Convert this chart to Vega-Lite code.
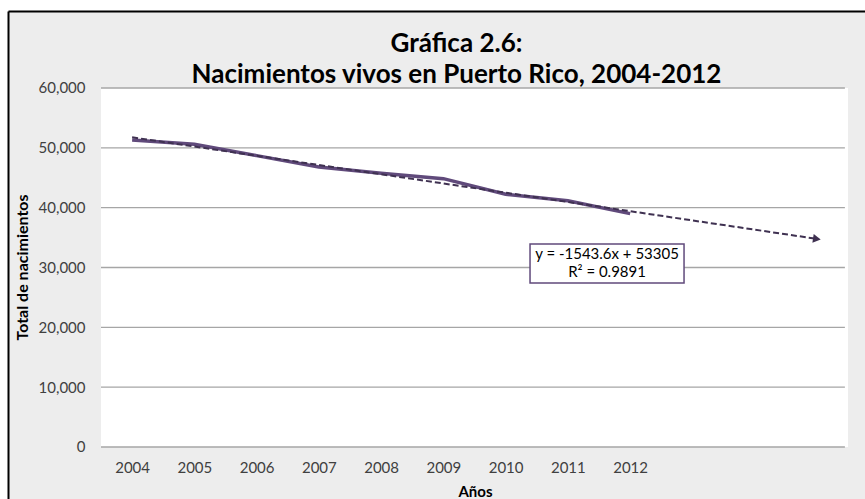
{
  "$schema": "https://vega.github.io/schema/vega-lite/v6.json",
  "width": 857,
  "height": 488,
  "autosize": {"type": "none"},
  "padding": {"left": 8, "top": 11, "right": 0, "bottom": 0},
  "background": "white",
  "config": {"view": {"stroke": null, "fill": "#ededed"}, "font": "Lato"},
  "title": {
    "text": ["Gráfica 2.6:", "Nacimientos vivos en Puerto Rico, 2004-2012"],
    "font": "Lato", "fontSize": 26, "fontWeight": "bold", "color": "black",
    "anchor": "middle", "frame": "group", "dx": 20, "offset": -77, "baseline": "top", "lineHeight": 31
  },
  "datasets": {
    "births": [
      {"year": 2004, "value": 51300},
      {"year": 2005, "value": 50600},
      {"year": 2006, "value": 48700},
      {"year": 2007, "value": 46800},
      {"year": 2008, "value": 45750},
      {"year": 2009, "value": 44850},
      {"year": 2010, "value": 42250},
      {"year": 2011, "value": 41150},
      {"year": 2012, "value": 39000}
    ],
    "trend": [
      {"year": 2004, "value": 51761},
      {"year": 2015, "value": 34782}
    ],
    "grid": [
      {"v": 0}, {"v": 10000}, {"v": 20000}, {"v": 30000}, {"v": 40000}, {"v": 50000}, {"v": 60000}
    ],
    "eq": [
      {"label": ["y = -1543.6x + 53305", "R² = 0.9891"]}
    ]
  },
  "resolve": {"axis": {"x": "independent", "y": "independent"}},
  "layer": [
    {
      "data": {"values": [{}]},
      "mark": {"type": "rect", "fill": "white"},
      "encoding": {
        "x": {"datum": 2003.5, "type": "quantitative",
          "scale": {"domain": [2002.006, 2015.773], "nice": false, "zero": false},
          "axis": {"orient": "bottom", "offset": -52, "values": [2004, 2005, 2006, 2007, 2008, 2009, 2010, 2011, 2012],
            "format": "d", "domain": false, "ticks": false, "tickSize": 0, "grid": false, "labelPadding": 13,
            "labelFont": "Lato", "labelFontSize": 15, "labelColor": "#404040", "labelFlush": false, "labelOverlap": false,
            "title": "Años", "titleFont": "Lato", "titleFontSize": 15, "titleFontWeight": "bold", "titleColor": "black",
            "titleX": 467, "titleY": 49, "titleBaseline": "alphabetic", "titleAlign": "center"}},
        "x2": {"datum": 2015.5},
        "y": {"datum": 0, "type": "quantitative",
          "scale": {"domain": [-8691, 72869], "nice": false, "zero": false},
          "axis": {"orient": "left", "offset": -93, "values": [0, 10000, 20000, 30000, 40000, 50000, 60000],
            "format": ",d", "domain": false, "ticks": false, "tickSize": 0, "grid": false, "labelPadding": 16,
            "labelFont": "Lato", "labelFontSize": 15, "labelColor": "#404040", "labelFlush": false, "labelOverlap": false,
            "title": "Total de nacimientos", "titleFont": "Lato", "titleFontSize": 16, "titleFontWeight": "bold", "titleColor": "black",
            "titleX": -79, "titleY": 256, "titleAngle": -90, "titleBaseline": "middle", "titleAlign": "center"}},
        "y2": {"datum": 60000}
      }
    },
    {
      "data": {"name": "grid"},
      "mark": {"type": "rule", "color": "#a6a6a6", "strokeWidth": 1.3},
      "encoding": {
        "x": {"datum": 2003.5, "type": "quantitative",
          "scale": {"domain": [2002.006, 2015.773], "nice": false, "zero": false},
          "axis": {"orient": "top", "offset": 0, "domain": true, "domainColor": "black", "domainWidth": 2,
            "labels": false, "ticks": false, "grid": false, "title": null}},
        "x2": {"datum": 2015.45},
        "y": {"field": "v", "type": "quantitative",
          "scale": {"domain": [-8691, 72869], "nice": false, "zero": false},
          "axis": {"orient": "left", "offset": 0, "domain": true, "domainColor": "black", "domainWidth": 2,
            "labels": false, "ticks": false, "grid": false, "title": null}}
      }
    },
    {
      "data": {"name": "births"},
      "mark": {"type": "line", "color": "#604a7b", "strokeWidth": 3.5},
      "encoding": {
        "x": {"field": "year", "type": "quantitative", "scale": {"domain": [2002.006, 2015.773], "nice": false, "zero": false}, "axis": null},
        "y": {"field": "value", "type": "quantitative", "scale": {"domain": [-8691, 72869], "nice": false, "zero": false}, "axis": null}
      }
    },
    {
      "data": {"name": "trend"},
      "mark": {"type": "line", "color": "#3f3151", "strokeWidth": 2, "strokeDash": [6, 3]},
      "encoding": {
        "x": {"field": "year", "type": "quantitative", "scale": {"domain": [2002.006, 2015.773], "nice": false, "zero": false}, "axis": null},
        "y": {"field": "value", "type": "quantitative", "scale": {"domain": [-8691, 72869], "nice": false, "zero": false}, "axis": null}
      }
    },
    {
      "data": {"name": "trend"},
      "transform": [{"filter": "datum.year == 2015"}],
      "mark": {"type": "point", "shape": "triangle-right", "angle": 8.4, "filled": true, "color": "#3f3151", "size": 80, "opacity": 1},
      "encoding": {
        "x": {"field": "year", "type": "quantitative", "scale": {"domain": [2002.006, 2015.773], "nice": false, "zero": false}, "axis": null},
        "y": {"field": "value", "type": "quantitative", "scale": {"domain": [-8691, 72869], "nice": false, "zero": false}, "axis": null}
      }
    },
    {
      "data": {"name": "eq"},
      "mark": {"type": "rect", "fill": "white", "stroke": "#604a7b", "strokeWidth": 1.5},
      "encoding": {
        "x": {"datum": 2010.392, "type": "quantitative", "scale": {"domain": [2002.006, 2015.773], "nice": false, "zero": false}, "axis": null},
        "x2": {"datum": 2012.866},
        "y": {"datum": 33928, "type": "quantitative", "scale": {"domain": [-8691, 72869], "nice": false, "zero": false}, "axis": null},
        "y2": {"datum": 27410}
      }
    },
    {
      "data": {"name": "eq"},
      "mark": {"type": "text", "font": "Lato", "fontSize": 15, "color": "black", "align": "center", "baseline": "middle", "lineHeight": 18},
      "encoding": {
        "x": {"datum": 2011.629, "type": "quantitative", "scale": {"domain": [2002.006, 2015.773], "nice": false, "zero": false}, "axis": null},
        "y": {"datum": 32173, "type": "quantitative", "scale": {"domain": [-8691, 72869], "nice": false, "zero": false}, "axis": null},
        "text": {"field": "label"}
      }
    }
  ]
}
